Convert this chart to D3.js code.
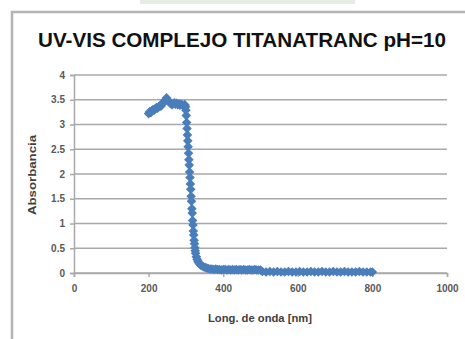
<!DOCTYPE html>
<html>
<head>
<meta charset="utf-8">
<script src="https://cdn.jsdelivr.net/npm/d3@7"></script>
<style>
  html, body { margin: 0; padding: 0; background: #fff; }
  svg { display: block; }
</style>
</head>
<body>
<div id="chart"></div>
<script>
// spectrum
const wavelength = [
  200, 203, 206, 209, 212, 215, 218, 221, 224, 227, 230, 233, 236, 239, 242, 245, 248, 251, 254, 257,
  260, 263, 266, 269, 272, 275, 278, 281, 284, 287, 290, 293, 296,
  297, 298, 299, 300, 301, 302, 303, 304, 305, 306, 307, 308, 309, 310, 311, 312, 313, 314, 315,
  316, 317, 318, 319, 320, 321, 322, 323, 324, 325, 326, 328, 330, 332, 334, 337, 340, 344, 348,
  352, 356, 360, 365, 370, 375, 380, 385, 390, 395, 400, 405, 410, 415, 420, 425, 430, 435, 440,
  445, 450, 455, 460, 465, 470, 475, 480, 485, 490, 495, 500,
  505, 515, 525, 535, 545, 555, 565, 575, 585, 595, 605, 615, 625, 635, 645, 655, 665, 675, 685,
  695, 705, 715, 725, 735, 745, 755, 765, 775, 785, 795, 800
];
const absorbance = [
  3.22, 3.26, 3.24, 3.28, 3.30, 3.29, 3.32, 3.34, 3.33, 3.36, 3.38, 3.37, 3.41, 3.44, 3.47, 3.50, 3.54, 3.50, 3.46, 3.44,
  3.42, 3.40, 3.42, 3.44, 3.41, 3.43, 3.40, 3.42, 3.39, 3.41, 3.40, 3.38, 3.40,
  3.40, 3.37, 3.36, 3.29, 3.18, 3.04, 2.92, 2.79, 2.67, 2.55, 2.42, 2.29, 2.18, 2.04, 1.93, 1.80, 1.69, 1.55, 1.45,
  1.30, 1.21, 1.06, 0.97, 0.85, 0.77, 0.66, 0.59, 0.51, 0.45, 0.40, 0.33, 0.28, 0.24, 0.21, 0.18, 0.16, 0.14, 0.12,
  0.11, 0.10, 0.09, 0.08, 0.08, 0.07, 0.08, 0.07, 0.07, 0.06, 0.07, 0.07, 0.06, 0.07, 0.06, 0.07, 0.06, 0.07, 0.06,
  0.07, 0.06, 0.07, 0.06, 0.06, 0.07, 0.06, 0.06, 0.07, 0.06, 0.06, 0.06,
  0.03, 0.02, 0.03, 0.02, 0.03, 0.02, 0.02, 0.03, 0.02, 0.02, 0.03, 0.02, 0.02, 0.03, 0.02, 0.02, 0.03, 0.02, 0.02,
  0.03, 0.02, 0.02, 0.03, 0.02, 0.02, 0.02, 0.03, 0.02, 0.02, 0.02, 0.02
];

const xTicks = [0, 200, 400, 600, 800, 1000];
const yTicks = [0, 0.5, 1, 1.5, 2, 2.5, 3, 3.5, 4];
const yTickLabels = ["0", "0.5", "1", "1.5", "2", "2.5", "3", "3.5", "4"];

const title = "UV-VIS COMPLEJO TITANATRANC pH=10";
const xTitle = "Long. de onda [nm]";
const yTitle = "Absorbancia";

const width = 465;
const height = 339;
const margin = { left: 74, right: 18, top: 75, bottom: 66 };

const gridColor = "#a9a9a9";
const textColor = "#595959";
const markerColor = "#4a7ebb";

const svg = d3.select("#chart")
  .append("svg")
  .attr("width", width)
  .attr("height", height);

// faint strip of whatever sat above the chart in the source page
svg.append("rect")
  .attr("x", 140).attr("y", 0)
  .attr("width", 215).attr("height", 4)
  .attr("fill", "#e6ede3");

// chart frame (only top and left edges are visible)
svg.append("path")
  .attr("d", `M12,${height} V12 H${width}`)
  .attr("fill", "none")
  .attr("stroke", "#b5b5b5")
  .attr("stroke-width", 2.5);

const x = d3.scaleLinear().domain([0, 1000]).range([margin.left, width - margin.right]);
const y = d3.scaleLinear().domain([0, 4]).range([height - margin.bottom, margin.top]);

// horizontal gridlines
svg.append("g")
  .selectAll("line")
  .data(yTicks)
  .join("line")
  .attr("x1", x(0))
  .attr("x2", x(1000))
  .attr("y1", d => y(d))
  .attr("y2", d => y(d))
  .attr("stroke", gridColor)
  .attr("stroke-width", 1.5);

// y axis
const yAxis = svg.append("g")
  .attr("transform", `translate(${x(0)},0)`)
  .call(d3.axisLeft(y).tickValues(yTicks).tickSize(4).tickPadding(5)
    .tickFormat((d, i) => yTickLabels[i]));

// x axis
const xAxis = svg.append("g")
  .attr("transform", `translate(0,${y(0)})`)
  .call(d3.axisBottom(x).tickValues(xTicks).tickSize(4).tickPadding(8)
    .tickFormat(d3.format("d")));

[xAxis, yAxis].forEach(g => {
  g.select(".domain").attr("stroke", gridColor).attr("stroke-width", 1.5);
  g.selectAll(".tick line").attr("stroke", gridColor).attr("stroke-width", 1.5);
  g.selectAll(".tick text")
    .attr("fill", textColor)
    .style("font-family", "'Liberation Sans', Arial, sans-serif")
    .style("font-size", "10px")
    .style("font-weight", "bold");
});

// data markers: rotated squares like Excel diamonds
const points = wavelength.map((w, i) => ({ w: w, a: absorbance[i] }));
svg.append("g")
  .selectAll("path")
  .data(points)
  .join("path")
  .attr("d", d3.symbol().type(d3.symbolSquare).size(46))
  .attr("transform", d => `translate(${x(d.w)},${y(d.a)}) rotate(45)`)
  .attr("fill", markerColor);

// title
svg.append("text")
  .attr("x", 242)
  .attr("y", 47)
  .attr("text-anchor", "middle")
  .attr("textLength", 408)
  .attr("lengthAdjust", "spacingAndGlyphs")
  .style("font-family", "'Liberation Sans Narrow', 'Liberation Sans', Arial, sans-serif")
  .style("font-size", "20px")
  .style("font-weight", "bold")
  .attr("fill", "#111")
  .text(title);

// axis titles
svg.append("text")
  .attr("x", 260)
  .attr("y", 322)
  .attr("text-anchor", "middle")
  .attr("textLength", 104)
  .attr("lengthAdjust", "spacingAndGlyphs")
  .style("font-family", "'Liberation Sans', Arial, sans-serif")
  .style("font-size", "10px")
  .style("font-weight", "bold")
  .attr("fill", "#404040")
  .text(xTitle);

svg.append("text")
  .attr("transform", "translate(36,175) rotate(-90)")
  .attr("text-anchor", "middle")
  .attr("textLength", 80)
  .attr("lengthAdjust", "spacingAndGlyphs")
  .style("font-family", "'Liberation Sans', Arial, sans-serif")
  .style("font-size", "10px")
  .style("font-weight", "bold")
  .attr("fill", "#404040")
  .text(yTitle);
</script>
</body>
</html>
